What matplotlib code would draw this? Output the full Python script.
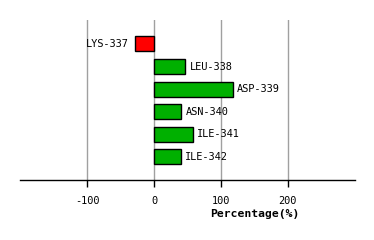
import matplotlib
matplotlib.use("Agg")
import matplotlib.pyplot as plt

residues = ["LYS-337", "LEU-338", "ASP-339", "ASN-340", "ILE-341", "ILE-342"]
percentages = [-28, 47, 118, 41, 58, 40]
x_ticks = [-100, 0, 100, 200]

FONT = "DejaVu Sans Mono"

fig = plt.figure(figsize=(3.74, 2.40), dpi=100)
ax = fig.add_axes([20 / 374, 1 - 180.3 / 240, 335 / 374, 160.3 / 240])

colors = ["#ff0000" if v < 0 else "#00b000" for v in percentages]
ypos = list(range(len(residues)))
ax.barh(ypos, percentages, height=0.66, color=colors, edgecolor="black", linewidth=1, zorder=3)

for y, v, name in zip(ypos, percentages, residues):
    if v < 0:
        ax.annotate(name, (v, y), xytext=(-5, 0), textcoords="offset points",
                    ha="right", va="center", fontsize=7.4, family=FONT)
    else:
        ax.annotate(name, (v, y), xytext=(3, 0), textcoords="offset points",
                    ha="left", va="center", fontsize=7.4, family=FONT)

ax.set_xlim(-201, 301)
ax.set_ylim(6.04, -1.06)
ax.set_xticks(x_ticks)
ax.set_xticklabels([str(t) for t in x_ticks], family=FONT, fontsize=7.4)
ax.set_yticks([])
ax.grid(axis="x", color="#a0a0a0", linewidth=1, zorder=0)
ax.tick_params(axis="x", length=5, width=1, pad=6)

for side in ("top", "left", "right"):
    ax.spines[side].set_visible(False)
ax.spines["bottom"].set_linewidth(1)

ax.set_xlabel("Percentage(%)", family=FONT, fontsize=8.2, fontweight="bold")
ax.xaxis.set_label_coords(0.70, -0.18)

fig.savefig("out.png", dpi=100)
